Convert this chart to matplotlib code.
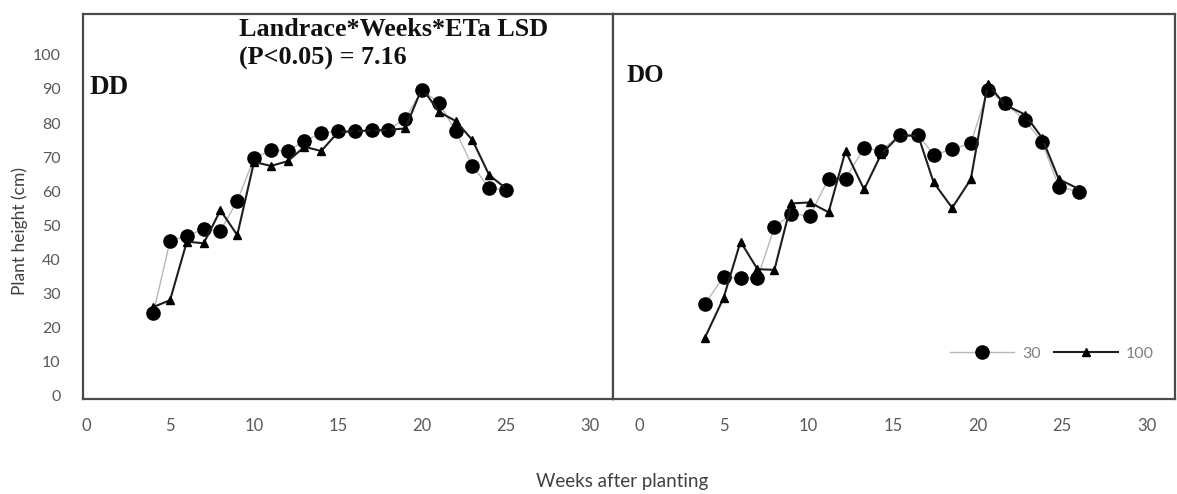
import matplotlib
matplotlib.use("Agg")
import matplotlib.pyplot as plt
from matplotlib.lines import Line2D

# Weeks after planting
weeks_dd = [4, 5, 6, 7, 8, 9, 10, 11, 12, 13, 14, 15, 16, 17, 18, 19, 20, 21, 22, 23, 24, 25]
weeks_do = [3.9, 5.0, 6.0, 7.0, 8.0, 9.0, 10.1, 11.2, 12.2, 13.3, 14.3, 15.4, 16.5, 17.4,
            18.5, 19.6, 20.6, 21.6, 22.8, 23.8, 24.8, 26.0]

# Plant height (cm), DD landrace
dd_30 = [24.1, 45.4, 46.8, 48.9, 48.4, 57.1, 69.6, 72.0, 71.8, 74.7, 77.1, 77.6, 77.6, 78.0,
         78.0, 81.3, 89.6, 86.0, 77.6, 67.4, 61.0, 60.3]
dd_100 = [26.0, 28.0, 45.2, 44.7, 54.4, 47.1, 68.6, 67.4, 68.8, 73.0, 71.8, 77.3, 77.6, 77.8,
          78.0, 78.4, 90.3, 83.3, 80.6, 75.0, 64.7, 60.8]

# Plant height (cm), DO landrace
do_30 = [26.9, 34.9, 34.4, 34.4, 49.4, 53.3, 52.8, 63.7, 63.7, 72.7, 71.8, 76.6, 76.6, 70.6,
         72.3, 74.0, 89.6, 86.0, 80.8, 74.5, 61.3, 59.8]
do_100 = [17.0, 28.7, 45.2, 37.1, 36.9, 56.4, 56.7, 53.8, 71.8, 60.5, 70.8, 76.4, 76.2, 62.6,
          55.1, 63.5, 91.6, 85.4, 82.5, 75.7, 63.5, 60.6]

series_labels = ["30", "100"]
x_ticks = [0, 5, 10, 15, 20, 25, 30]
y_ticks = [0, 10, 20, 30, 40, 50, 60, 70, 80, 90, 100]

W, H = 1177, 494
fig = plt.figure(figsize=(W / 100, H / 100), dpi=100)
fig.patch.set_facecolor("white")

tick_font = "Lato"
tick_color = "#595959"
frame_color = "#4a4a4a"

ax_dd = fig.add_axes([82.7 / W, 1 - 399 / H, 530 / W, 385 / H])
ax_do = fig.add_axes([612.7 / W, 1 - 399 / H, 562.3 / W, 385 / H])


def style(ax, xlim, show_y):
    ax.set_xlim(*xlim)
    ax.set_ylim(-1, 112)
    ax.set_xticks(x_ticks)
    ax.set_yticks(y_ticks)
    ax.tick_params(axis="x", length=0, pad=14, labelsize=12, labelcolor=tick_color)
    ax.tick_params(axis="y", length=0, pad=16, labelsize=11.5, labelcolor=tick_color,
                   labelleft=show_y)
    for lab in ax.get_xticklabels() + ax.get_yticklabels():
        lab.set_fontfamily(tick_font)
    for sp in ax.spines.values():
        sp.set_color(frame_color)
        sp.set_linewidth(1.6)
    ax.set_facecolor("white")


def draw(ax, x, s30, s100):
    ax.plot(x, s30, color="#b8b8b8", lw=1.0, marker="o", ms=9.5,
            mfc="black", mec="black", zorder=3)
    ax.plot(x, s100, color="#1e1e1e", lw=1.5, marker="^", ms=5.5,
            mfc="black", mec="black", zorder=4)


draw(ax_dd, weeks_dd, dd_30, dd_100)
draw(ax_do, weeks_do, do_30, do_100)
style(ax_dd, (-0.2, 31.35), True)
style(ax_do, (-1.55, 31.66), False)

serif = "Liberation Serif"
fig.text(239 / W, 1 - 36 / H, "Landrace*Weeks*ETa LSD", fontfamily=serif,
         fontweight="bold", fontsize=18.8, ha="left", va="baseline", color="#111111")
fig.text(239 / W, 1 - 65 / H, "(P<0.05) = 7.16", fontfamily=serif,
         fontweight="bold", fontsize=18.8, ha="left", va="baseline", color="#111111")
fig.text(90 / W, 1 - 94 / H, "DD", fontfamily=serif, fontweight="bold",
         fontsize=19.5, ha="left", va="baseline", color="#111111")
fig.text(627 / W, 1 - 82 / H, "DO", fontfamily=serif, fontweight="bold",
         fontsize=18, ha="left", va="baseline", color="#111111")

fig.text(20 / W, 1 - 231 / H, "Plant height (cm)", fontfamily=tick_font, fontsize=12.5,
         rotation=90, ha="center", va="center", color="#404040")
fig.text(622 / W, 1 - 481 / H, "Weeks after planting", fontfamily=tick_font, fontsize=13.5,
         ha="center", va="center", color="#404040")

handles = [
    Line2D([], [], color="#b8b8b8", lw=1.0, marker="o", ms=9.5, mfc="black", mec="black"),
    Line2D([], [], color="#1e1e1e", lw=1.5, marker="^", ms=5.5, mfc="black", mec="black"),
]
leg = fig.legend(handles, series_labels, loc="center",
                 bbox_to_anchor=(1052 / W, 1 - 354 / H), bbox_transform=fig.transFigure,
                 ncol=2, frameon=False, handlelength=4.0, handletextpad=0.5,
                 columnspacing=0.8, prop={"family": tick_font, "size": 11.5})
for t in leg.get_texts():
    t.set_color("#808080")

fig.savefig("out.png", dpi=100, facecolor="white")
